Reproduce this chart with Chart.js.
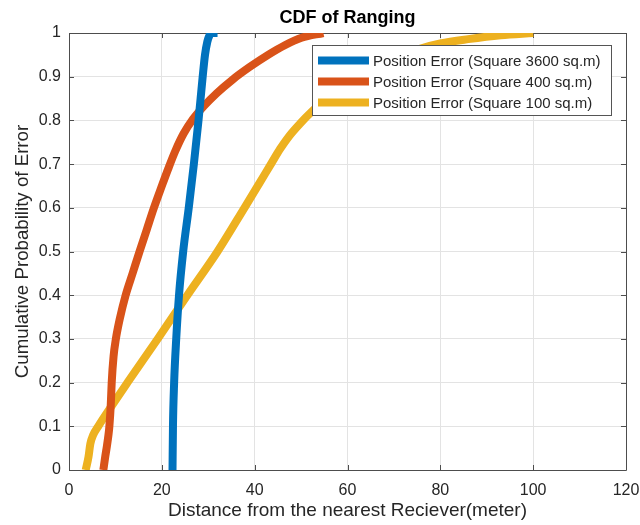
<!DOCTYPE html>
<html>
<head>
<meta charset="utf-8">
<script src="https://cdn.jsdelivr.net/npm/chart.js@4"></script>
<style>
  html, body { margin: 0; padding: 0; background: #ffffff; }
  #wrap { width: 640px; height: 525px; position: relative; }
</style>
</head>
<body>
<div id="wrap"><canvas id="cdf" width="640" height="525"></canvas></div>
<script>
// Tick values / labels
const xTickValues = [0, 20, 40, 60, 80, 100, 120];
const yTickValues = [0, 0.1, 0.2, 0.3, 0.4, 0.5, 0.6, 0.7, 0.8, 0.9, 1];
const yTickLabels = ['0', '0.1', '0.2', '0.3', '0.4', '0.5', '0.6', '0.7', '0.8', '0.9', '1'];

// Series names
const seriesNames = [
  'Position Error (Square 3600 sq.m)',
  'Position Error (Square 400 sq.m)',
  'Position Error (Square 100 sq.m)'
];

// Square 3600 sq.m : distance (m) and cumulative probability
const dist3600 = [22.3, 22.4, 22.65, 23.1, 23.7, 24.6, 25.8, 26.9, 27.9, 28.8, 29.3, 29.8, 30.2, 31.0, 32.0];
const prob3600 = [0, 0.1, 0.2, 0.3, 0.4, 0.5, 0.6, 0.7, 0.8, 0.9, 0.95, 0.98, 0.993, 1.0, 1.0];

// Square 400 sq.m
const dist400 = [7.4, 7.8, 8.1, 8.5, 8.7, 9.0, 9.2, 9.6, 10.1, 10.9, 12.2, 13.7, 15.2, 16.75, 18.3, 20.0, 21.4, 22.9, 24.7, 26.7, 29.0, 31.8, 35.2, 38.9, 42.9, 46.5, 50.1, 54.8];
const prob400 = [0, 0.03, 0.05, 0.08, 0.1, 0.15, 0.2, 0.26, 0.3, 0.344, 0.4, 0.45, 0.5, 0.55, 0.6, 0.65, 0.69, 0.73, 0.77, 0.803, 0.832, 0.862, 0.893, 0.922, 0.95, 0.972, 0.989, 1.0];

// Square 100 sq.m
const dist100 = [3.6, 4.2, 4.6, 5.2, 6.3, 9.4, 12.6, 19.1, 25.5, 32.0, 37.8, 41.0, 43.5, 45.5, 47.5, 49.8, 52.3, 56.0, 60.0, 65.0, 70.0, 75.6, 80.0, 86.0, 93.0, 100.0];
const prob100 = [0, 0.03, 0.06, 0.08, 0.1, 0.15, 0.2, 0.3, 0.4, 0.5, 0.6, 0.656, 0.7, 0.735, 0.765, 0.793, 0.82, 0.855, 0.885, 0.917, 0.943, 0.964, 0.976, 0.986, 0.995, 1.0];

const seriesColors = ['#0072BD', '#D95319', '#EDB120'];

const FONT = '"Liberation Sans", Arial, Helvetica, sans-serif';
const TEXT_COLOR = '#262626';

function toPoints(xs, ys) {
  return xs.map((x, i) => ({ x: x, y: ys[i] }));
}

// Axes box, inward tick marks, title and the in-plot legend
const matlabStyle = {
  id: 'matlabStyle',
  beforeDatasetsDraw(chart) {
    const { ctx, chartArea: a, scales } = chart;
    ctx.save();
    ctx.strokeStyle = '#4d4d4d';
    ctx.lineWidth = 1;
    ctx.beginPath();
    ctx.rect(Math.round(a.left) + 0.5, Math.round(a.top) + 0.5,
             Math.round(a.right - a.left), Math.round(a.bottom - a.top));
    ctx.stroke();
    const tl = 5;
    ctx.beginPath();
    xTickValues.forEach(v => {
      const px = Math.round(scales.x.getPixelForValue(v)) + 0.5;
      ctx.moveTo(px, a.bottom); ctx.lineTo(px, a.bottom - tl);
      ctx.moveTo(px, a.top); ctx.lineTo(px, a.top + tl);
    });
    yTickValues.forEach(v => {
      const py = Math.round(scales.y.getPixelForValue(v)) + 0.5;
      ctx.moveTo(a.left, py); ctx.lineTo(a.left + tl, py);
      ctx.moveTo(a.right, py); ctx.lineTo(a.right - tl, py);
    });
    ctx.stroke();
    ctx.restore();
  },
  afterDraw(chart) {
    const { ctx, chartArea: a } = chart;
    ctx.save();
    // title
    ctx.fillStyle = '#000000';
    ctx.font = 'bold 18px ' + FONT;
    ctx.textAlign = 'center';
    ctx.textBaseline = 'middle';
    ctx.fillText('CDF of Ranging', (a.left + a.right) / 2, 18);

    // legend
    const bx = 312.5, by = 45.5, bw = 299, bh = 70;
    ctx.fillStyle = '#ffffff';
    ctx.fillRect(bx, by, bw, bh);
    ctx.strokeStyle = '#555555';
    ctx.lineWidth = 1;
    ctx.strokeRect(bx, by, bw, bh);
    ctx.font = '15px ' + FONT;
    ctx.textAlign = 'left';
    ctx.textBaseline = 'middle';
    chart.data.datasets.forEach((ds, i) => {
      const yc = 60.5 + i * 21;
      ctx.strokeStyle = ds.borderColor;
      ctx.lineWidth = 8;
      ctx.lineCap = 'butt';
      ctx.beginPath();
      ctx.moveTo(318, yc);
      ctx.lineTo(369, yc);
      ctx.stroke();
      ctx.fillStyle = TEXT_COLOR;
      ctx.fillText(ds.label, 373, yc + 1);
    });
    ctx.restore();
  }
};

const datasets = [
  toPoints(dist3600, prob3600),
  toPoints(dist400, prob400),
  toPoints(dist100, prob100)
].map((pts, i) => ({
  label: seriesNames[i],
  data: pts,
  showLine: true,
  borderColor: seriesColors[i],
  backgroundColor: seriesColors[i],
  borderWidth: 8,
  borderCapStyle: 'butt',
  borderJoinStyle: 'round',
  pointRadius: 0,
  pointHoverRadius: 0,
  cubicInterpolationMode: 'monotone',
  fill: false
}));

new Chart(document.getElementById('cdf'), {
  type: 'scatter',
  data: { datasets: datasets },
  options: {
    responsive: false,
    animation: false,
    events: [],
    layout: { padding: { left: 0, right: 0, top: 33, bottom: 0 } },
    plugins: {
      legend: { display: false },
      title: { display: false },
      tooltip: { enabled: false }
    },
    scales: {
      x: {
        type: 'linear',
        min: 0,
        max: 120,
        afterFit(scale) { scale.height = 55; scale.paddingRight = 14; },
        afterBuildTicks(scale) { scale.ticks = xTickValues.map(v => ({ value: v })); },
        grid: { color: '#e3e3e3', drawTicks: false },
        border: { display: false },
        ticks: {
          padding: 11,
          color: TEXT_COLOR,
          font: { family: FONT, size: 16 },
          maxRotation: 0,
          callback: (v) => String(v)
        },
        title: {
          display: true,
          text: 'Distance from the nearest Reciever(meter)',
          color: TEXT_COLOR,
          font: { family: FONT, size: 19 },
          padding: { top: 0, bottom: 3 }
        }
      },
      y: {
        type: 'linear',
        min: 0,
        max: 1,
        afterFit(scale) { scale.width = 69; },
        afterBuildTicks(scale) { scale.ticks = yTickValues.map(v => ({ value: v })); },
        grid: { color: '#e3e3e3', drawTicks: false },
        border: { display: false },
        ticks: {
          padding: 8,
          color: TEXT_COLOR,
          font: { family: FONT, size: 16 },
          callback: (v) => yTickLabels[yTickValues.indexOf(v)] ?? ''
        },
        title: {
          display: true,
          text: 'Cumulative Probability of Error',
          color: TEXT_COLOR,
          font: { family: FONT, size: 18.7 },
          padding: { top: 12, bottom: 0 }
        }
      }
    }
  },
  plugins: [matlabStyle]
});
</script>
</body>
</html>
